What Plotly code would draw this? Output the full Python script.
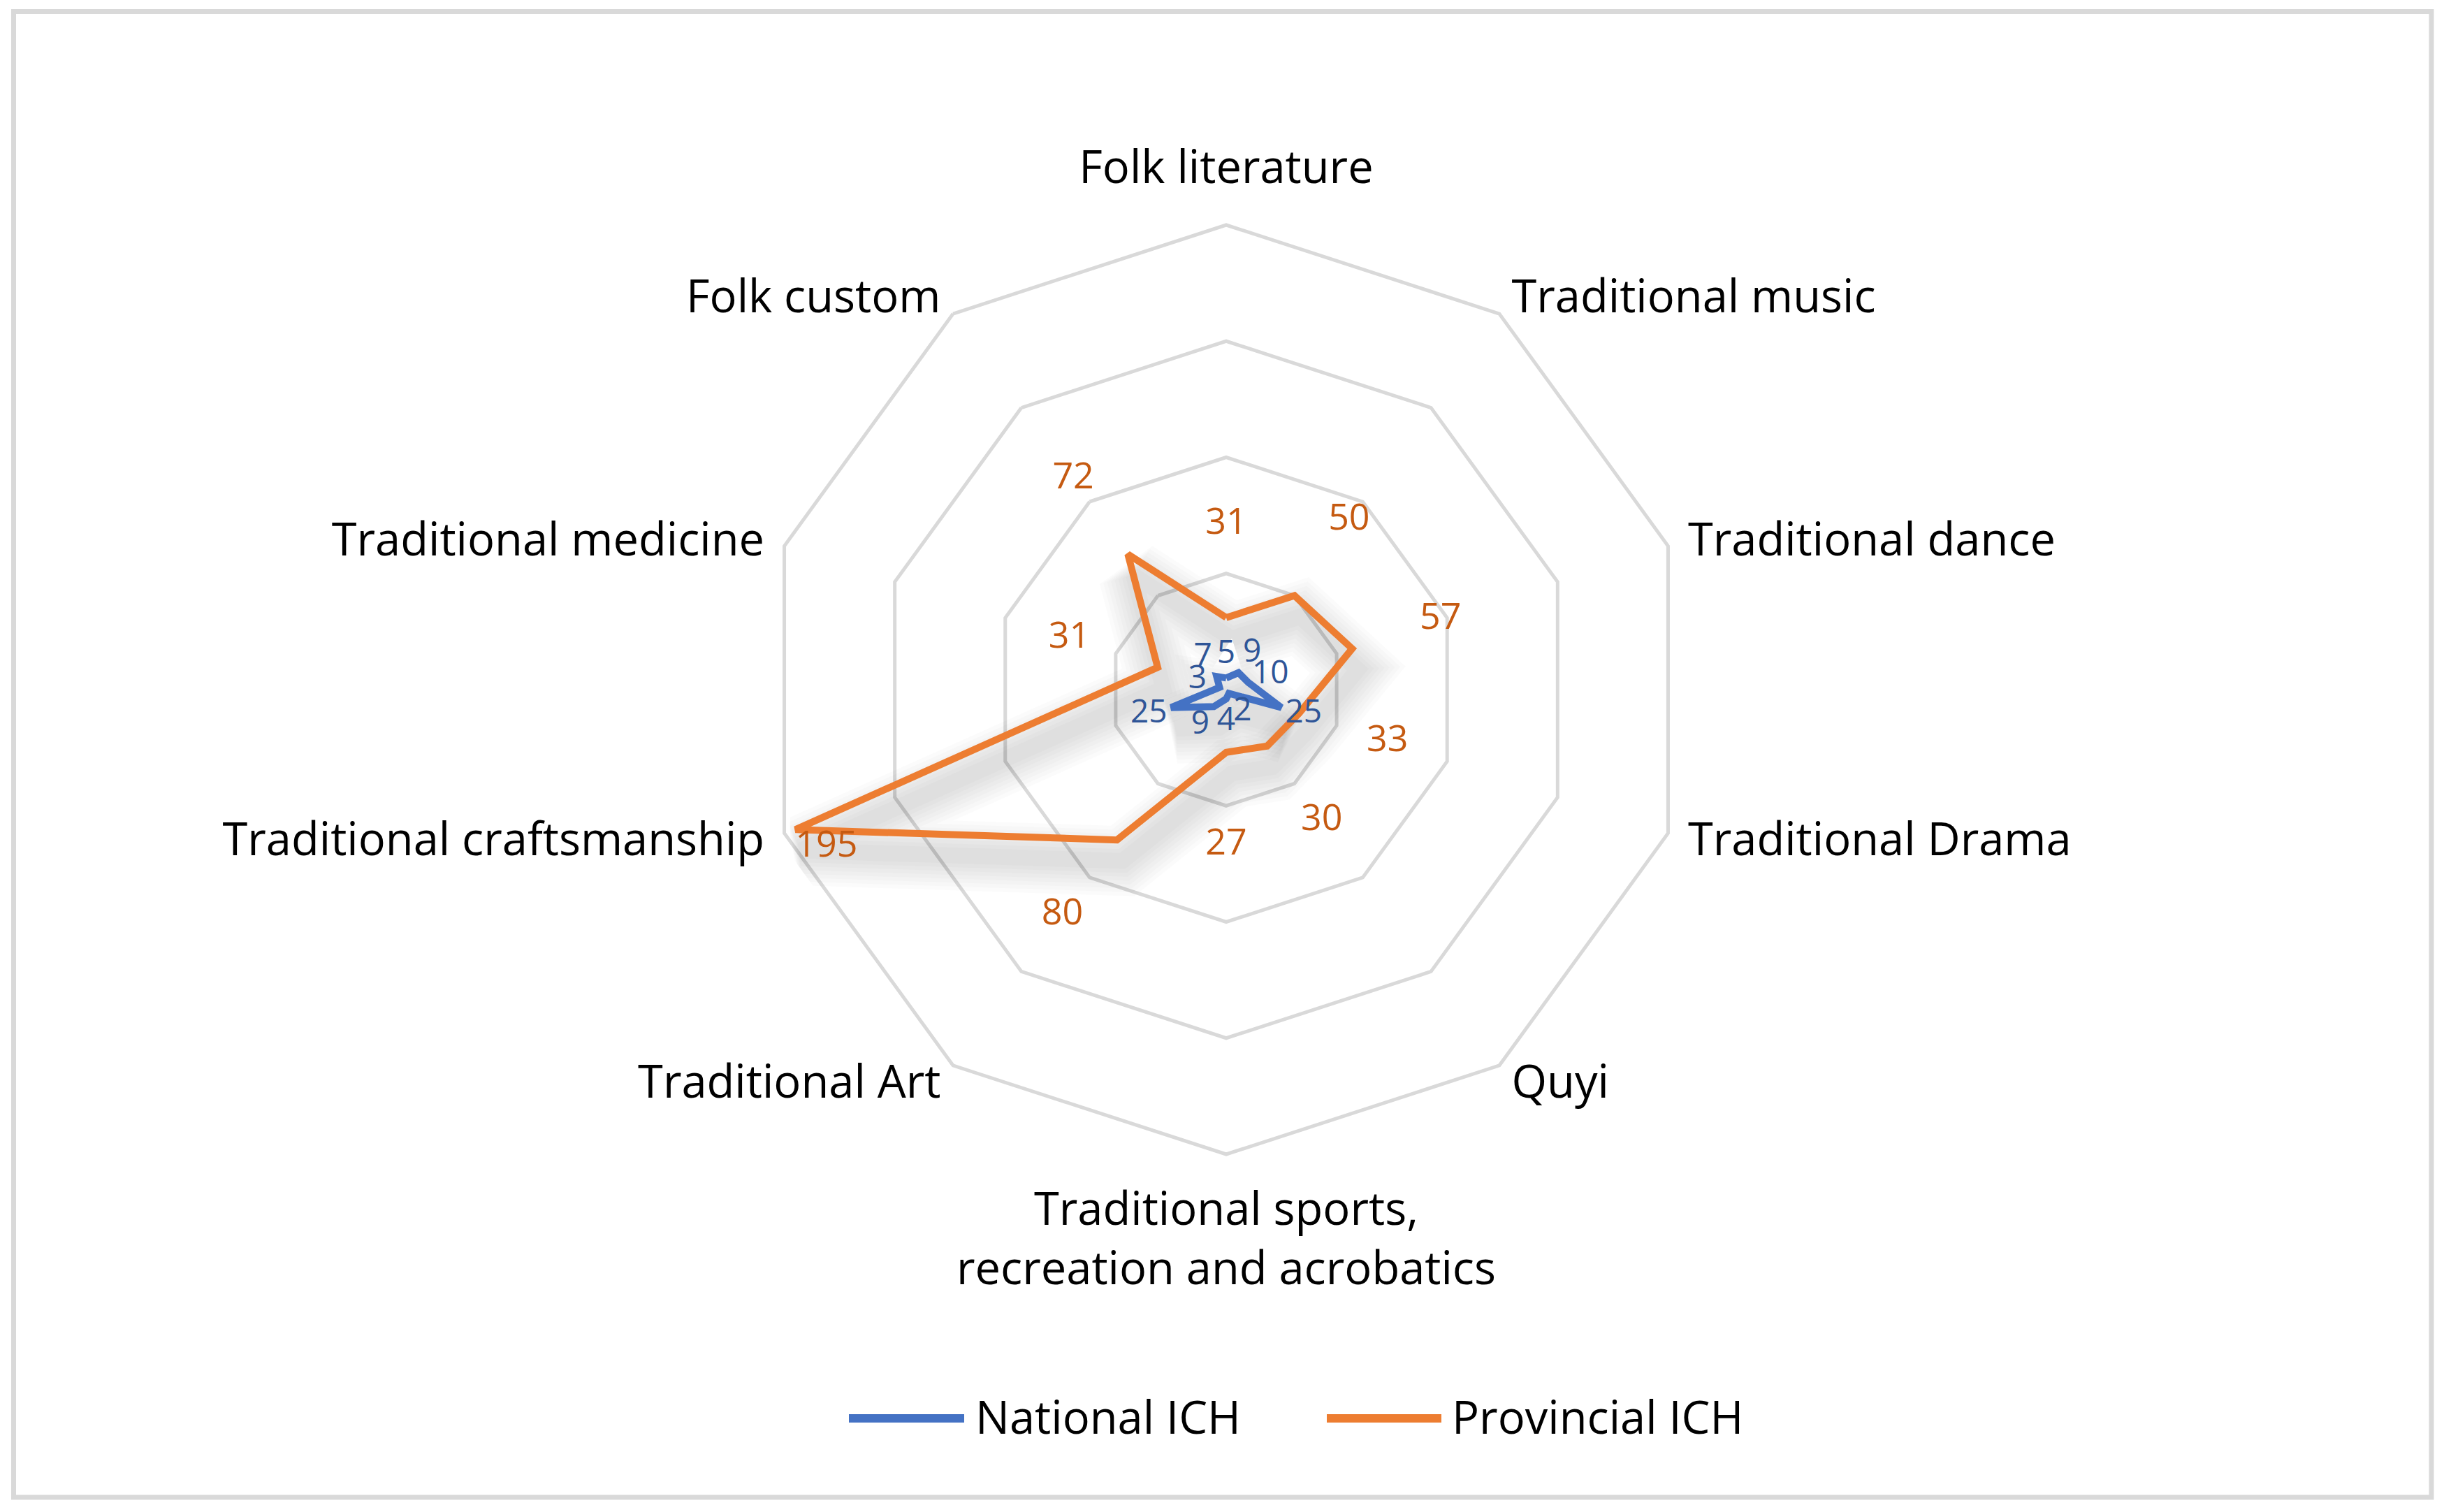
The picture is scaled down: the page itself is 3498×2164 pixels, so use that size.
import plotly.graph_objects as go

categories = ["Folk literature", "Traditional music", "Traditional dance", "Traditional Drama",
              "Quyi", "Traditional sports,<br>recreation and acrobatics", "Traditional Art",
              "Traditional craftsmanship", "Traditional medicine", "Folk custom"]
national = [5, 9, 10, 25, 2, 4, 9, 25, 3, 7]
provincial = [31, 50, 57, 33, 30, 27, 80, 195, 31, 72]
series_names = ["National ICH", "Provincial ICH"]

W, H = 3498, 2164
OFF = 8  # page body margin compensation (px)
R_MAX = 200
LBL_K = 1.045   # side category labels just outside the outer ring
LBL_TOP = 1.075
LBL_BOT = 1.07
LBL_RANGE = 1.1
BLUE, ORANGE = "#4472C4", "#ED7D31"
BLUE_LBL, ORANGE_LBL = "#2F5597", "#C55A11"
GRID = "#D9D9D9"
FONT = "Open Sans"


def px(x):
    return (x - OFF) / W


def py(y):
    return 1 - (y - OFF) / H


cx, cy, rad = 1755, 987, 665


def dom(radius, dx=0, dy=0):
    return dict(x=[px(cx - radius + dx), px(cx + radius + dx)],
                y=[py(cy + radius + dy), py(cy - radius + dy)])


def closed(v):
    return list(v) + [v[0]]


theta_c = closed(categories)
n = len(categories)
fig = go.Figure()

# grid subplot 'polar' needs a trace to be drawn: an invisible anchor point
fig.add_trace(go.Scatterpolar(r=[0], theta=[categories[0]], mode="markers",
                              marker=dict(size=1, opacity=0), hoverinfo="skip",
                              showlegend=False, subplot="polar"))

# soft drop shadow (subplot 'polar2', shifted down-right)
n_layers = 8
for vals in (national, provincial):
    for k in range(n_layers):
        w = 100 - k * 11
        fig.add_trace(go.Scatterpolar(r=closed(vals), theta=theta_c, mode="lines",
                                      line=dict(color="rgba(0,0,0,0.016)", width=w),
                                      hoverinfo="skip", showlegend=False, subplot="polar2"))

# main series
for vals, name, col in ((national, series_names[0], BLUE), (provincial, series_names[1], ORANGE)):
    fig.add_trace(go.Scatterpolar(r=closed(vals), theta=theta_c, mode="lines", name=name,
                                  line=dict(color=col, width=10), showlegend=False,
                                  subplot="polar3"))


def label_trace(vals, off, col, size):
    rr, pos = [], []
    for v in vals:
        if v + off > R_MAX:
            rr.append(v)
            pos.append("bottom right")
        else:
            rr.append(v + off)
            pos.append("middle center")
    return go.Scatterpolar(r=rr, theta=categories, mode="text", text=[str(v) for v in vals],
                           textposition=pos, textfont=dict(color=col, size=size, family=FONT),
                           hoverinfo="skip", showlegend=False, subplot="polar3")


fig.add_trace(label_trace(national, 10, BLUE_LBL, 46))
fig.add_trace(label_trace(provincial, 40, ORANGE_LBL, 52))

# category labels (subplot 'polar4', slightly larger radial range)
cat_pos, cat_r = [], []
for i in range(n):
    a = i * 360 / n
    if a == 0:
        cat_pos.append("top center")
        cat_r.append(R_MAX * LBL_TOP)
    elif a == 180:
        cat_pos.append("bottom center")
        cat_r.append(R_MAX * LBL_BOT)
    elif a < 180:
        cat_pos.append("middle right")
        cat_r.append(R_MAX * LBL_K)
    else:
        cat_pos.append("middle left")
        cat_r.append(R_MAX * LBL_K)
fig.add_trace(go.Scatterpolar(r=cat_r, theta=categories, mode="text", text=categories,
                              textposition=cat_pos, cliponaxis=False,
                              textfont=dict(size=65, color="black", family=FONT),
                              hoverinfo="skip", showlegend=False, subplot="polar4"))

radial_base = dict(showticklabels=False, ticks="", showline=False)
angular_base = dict(direction="clockwise", rotation=90, showgrid=False, showticklabels=False,
                    ticks="", categoryorder="array", categoryarray=categories)
plain = dict(bgcolor="rgba(0,0,0,0)", gridshape="linear")
fig.update_layout(
    width=W, height=H,
    margin=dict(l=0, r=0, t=0, b=0),
    paper_bgcolor="white",
    font=dict(family=FONT, color="black"),
    polar=dict(
        domain=dom(rad), **plain,
        radialaxis=dict(**radial_base, range=[0, R_MAX], showgrid=True, gridcolor=GRID,
                        gridwidth=5, dtick=50),
        angularaxis=dict(**angular_base, showline=True, linecolor=GRID, linewidth=5),
    ),
    polar2=dict(
        domain=dom(rad, 8, 30), **plain,
        radialaxis=dict(**radial_base, range=[0, R_MAX], showgrid=False),
        angularaxis=dict(**angular_base, showline=False),
    ),
    polar3=dict(
        domain=dom(rad), **plain,
        radialaxis=dict(**radial_base, range=[0, R_MAX], showgrid=False),
        angularaxis=dict(**angular_base, showline=False),
    ),
    polar4=dict(
        domain=dom(rad * LBL_RANGE, 0, 6), **plain,
        radialaxis=dict(**radial_base, range=[0, R_MAX * LBL_RANGE], showgrid=False),
        angularaxis=dict(**angular_base, showline=False),
    ),
    shapes=[
        dict(type="rect", xref="paper", yref="paper", x0=px(19.5), x1=px(3480),
             y0=py(2143), y1=py(16.5), line=dict(color=GRID, width=7), layer="below"),
        dict(type="line", xref="paper", yref="paper", x0=px(1215), x1=px(1380),
             y0=py(2030), y1=py(2030), line=dict(color=BLUE, width=12)),
        dict(type="line", xref="paper", yref="paper", x0=px(1899), x1=px(2063),
             y0=py(2030), y1=py(2030), line=dict(color=ORANGE, width=12)),
    ],
    annotations=[
        dict(text=series_names[0], xref="paper", yref="paper", x=px(1394), y=py(2027),
             xanchor="left", yanchor="middle", showarrow=False,
             font=dict(size=65, color="black", family=FONT)),
        dict(text=series_names[1], xref="paper", yref="paper", x=px(2076), y=py(2027),
             xanchor="left", yanchor="middle", showarrow=False,
             font=dict(size=65, color="black", family=FONT)),
    ],
)

fig.write_html("out.html")
